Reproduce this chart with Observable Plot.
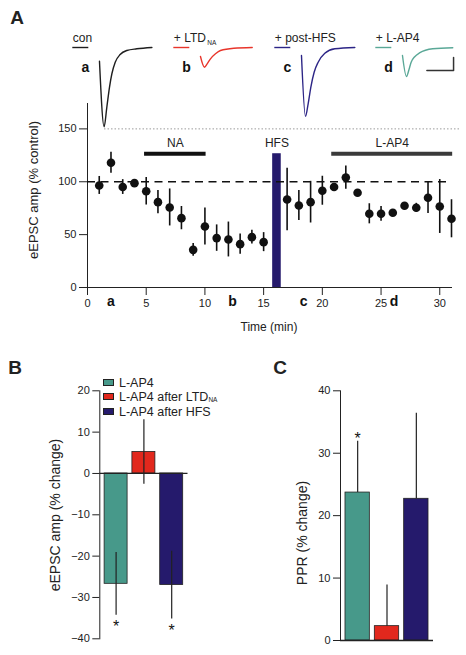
<!DOCTYPE html>
<html><head><meta charset="utf-8">
<script src="https://cdn.jsdelivr.net/npm/d3@7"></script>
<script src="https://cdn.jsdelivr.net/npm/@observablehq/plot@0.6"></script>
<style>
body{margin:0;background:#fff;}
#fig{position:relative;width:466px;height:655px;font-family:"Liberation Sans",Arial,sans-serif;color:#222;overflow:hidden;background:#fff}
#fig svg{position:absolute;}
.plabel{position:absolute;font-weight:bold;font-size:19px;transform:translate(-50%,-50%);line-height:1}
.title{position:absolute;white-space:nowrap;transform:translate(-50%,-50%);line-height:1}
.rot{transform:translate(-50%,-50%) rotate(-90deg)}
.leg{position:absolute;display:flex;align-items:center;height:14px;white-space:nowrap;font-size:12.5px}
.sw{display:inline-block;width:11px;height:7px;border:1px solid #222;box-sizing:border-box;margin-right:5px}
sub{font-size:6.5px;vertical-align:-1px}
</style></head>
<body><div id="fig"></div>
<script>
// ---------- Panel A: time course ----------
const times = [1,2,3,4,5,6,7,8,9,10,11,12,13,14,15,17,18,19,20,21,22,23,24,25,26,27,28,29,30,31];
const means = [96.5,118,95,98.7,91,80.7,75.7,65.6,35.6,57.7,46.7,45.4,41,47.6,42.9,83.2,77.6,80.7,91.5,95,104,89.6,69.7,69.7,70.7,77.3,75.4,84.9,76.6,65];
const sems  = [8.5,10,7,2.5,13,11,17.5,11,6,17.5,12.5,16.5,9.5,6.5,9,29.5,14.2,19.7,13.7,3,11,2,9.5,7,2,2,4.2,15,25.5,18];
const xTicksA = [0,5,10,15,20,25,30];
const yTicksA = [0,50,100,150];
const periodLabels = ["NA","HFS","L-AP4"];
const periodStart = [4.86,15.77,20.8];
const periodEnd = [10.1,16.5,31.1];
const periodLevel = 126.5;
const sampleIds = ["a","b","c","d"];
const sampleTimes = [2.0,12.35,18.4,26.1];

// ---------- Panel A: example traces (ms, pA) ----------
const traceLabels = ["con","+ LTD","+ post-HFS","+ L-AP4"];
const traceColors = ["#1e1e1e","#e8352b","#2c2586","#5aa897"];
const traceATime = [0,3.5,5.5,7.5,9.3,11.8,15.5,20.5,28,39.3];
const traceACurrent = [-52.7,-305,-230,-153,-101,-56.5,-27,-11.5,-5,0];
const traceBTime = [0,3,5,7.5,11.25,15,25,38.8];
const traceBCurrent = [-34.6,-75.8,-63,-43.5,-24.2,-11.5,-2.7,0];
const traceCTime = [0,3,5,7,9.5,12.5,17.5,25,40];
const traceCCurrent = [-30.8,-265,-216.5,-153,-95,-56.5,-22,-5,0];
const traceDTime = [0,3,4.9,6.5,9,12.75,22.7,37.7];
const traceDCurrent = [-30.8,-111.5,-84.6,-56.5,-36.5,-21,-5,-1.2];
const scaleBarMs = 20, scaleBarPA = 50;

// ---------- Panels B & C ----------
const groups = ["L-AP4","L-AP4 after LTD_NA","L-AP4 after HFS"];
const barColors = ["#47998a","#e2281d","#251a6c"];
const ampChange = [-26.7,5.2,-27.0];
const ampErr = [7.6,7.8,8.2];
const ampSig = [true,false,true];
const pprChange = [23.7,2.3,22.7];
const pprErr = [8.2,6.6,13.7];
const pprSig = [true,false,false];
const yTicksB = [-40,-30,-20,-10,0,10,20];
const yTicksC = [0,10,20,30,40];

const FONT = '"Liberation Sans", Arial, sans-serif';
const fig = document.getElementById("fig");
function place(el, left, top){ el.style.left = left+"px"; el.style.top = top+"px"; fig.appendChild(el); }
function html(cls, txt, x, y, size, extra){
  const d = document.createElement("div"); d.className = cls; d.innerHTML = txt;
  if (size) d.style.fontSize = size+"px";
  if (extra) Object.assign(d.style, extra);
  place(d, x, y); return d;
}

// Main time-course plot
const mainData = times.map((t,i)=>({t, m: means[i], e: sems[i]}));
const periods = periodLabels.map((p,i)=>({p, s: periodStart[i], e: periodEnd[i], mid: (periodStart[i]+periodEnd[i])/2}));
const plotA = Plot.plot({
  width: 466, height: 245, marginLeft: 87, marginRight: 15, marginTop: 8, marginBottom: 53,
  style: {background: "transparent", fontFamily: FONT, fontSize: "11px", color: "#222"},
  x: {domain: [0,31], ticks: xTicksA, tickSize: 8, tickPadding: 4, label: null, line: true},
  y: {domain: [0,174], ticks: yTicksA, tickSize: 8, tickPadding: 3, label: null, line: true},
  marks: [
    Plot.ruleY([150], {x1: 1.45, x2: 31.8, stroke: "#9a9a9a", strokeWidth: 1, strokeDasharray: "1.5,2"}),
    Plot.rect(periods.filter(d=>d.p==="HFS"), {x1: "s", x2: "e", y1: 0, y2: periodLevel, fill: barColors[2]}),
    Plot.ruleY([100], {x1: 0, x2: 31, stroke: "#111", strokeWidth: 1.4, strokeDasharray: "8,5.5"}),
    Plot.ruleY(periods.filter(d=>d.p!=="HFS"), {x1: "s", x2: "e", y: periodLevel, stroke: d=>d.p==="NA"?"#111":"#3a3a3a", strokeWidth: 4}),
    Plot.text(periods, {x: "mid", y: periodLevel, text: "p", dy: -11, fontSize: 12, fill: "#222"}),
    Plot.ruleX(mainData, {x: "t", y1: d=>d.m-d.e, y2: d=>d.m+d.e, stroke: "#111", strokeWidth: 1.6}),
    Plot.dot(mainData, {x: "t", y: "m", r: 4.3, fill: "#111", stroke: "none"}),
    Plot.text(sampleIds, {x: (d,i)=>sampleTimes[i], y: 0, text: d=>d, dy: 14, fontSize: 14, fontWeight: "bold", fill: "#111"})
  ]
});
place(plotA, 0, 95);

// Trace plot
const traceT = [traceATime, traceBTime, traceCTime, traceDTime];
const traceI = [traceACurrent, traceBCurrent, traceCCurrent, traceDCurrent];
const traceRows = [];
sampleIds.forEach((id,k)=>traceT[k].forEach((t,j)=>traceRows.push({id, t, i: traceI[k][j]})));
const labelRows = sampleIds.map((id,k)=>({id, label: traceLabels[k]}));
const barStart = 18.3;
const scaleRows = [
  {id: "d", t: barStart, i: -88.5},
  {id: "d", t: barStart+scaleBarMs, i: -88.5},
  {id: "d", t: barStart+scaleBarMs, i: -88.5+scaleBarPA}
];
const plotT = Plot.plot({
  width: 466, height: 140, marginLeft: 72.3, marginRight: 0, marginTop: 0, marginBottom: 0,
  style: {background: "transparent", fontFamily: FONT, fontSize: "12px", color: "#222", overflow: "visible"},
  fx: {domain: sampleIds, paddingInner: 0.102, paddingOuter: 0, align: 0, round: false, axis: null, label: null},
  x: {domain: [-20,48], axis: null},
  y: {domain: [-357.7,180.8], axis: null},
  color: {domain: sampleIds, range: traceColors},
  marks: [
    Plot.line(traceRows, {fx: "id", x: "t", y: "i", stroke: "id", strokeWidth: 1.4, curve: "monotone-x"}),
    Plot.ruleY(labelRows, {fx: "id", y: 0, x1: -20, x2: -8, stroke: "id", strokeWidth: 1.4}),
    Plot.text(labelRows, {fx: "id", x: -20, y: 34.6, text: "label", textAnchor: "start", fontSize: 12, fill: "#222"}),
    Plot.text(labelRows.filter(d=>d.id==="b"), {fx: "id", x: -20, y: 34.6, text: ()=>"NA", dx: 33.5, dy: 4.5, fontSize: 6.5, textAnchor: "start", fill: "#222"}),
    Plot.text(labelRows, {fx: "id", x: -10.5, y: -77, text: "id", fontSize: 14, fontWeight: "bold", fill: "#111"}),
    Plot.line(scaleRows, {fx: "id", x: "t", y: "i", stroke: "#333", strokeWidth: 1.5})
  ]
});
place(plotT, 0, 0);

// Panel B
const ampRows = groups.map((g,i)=>({g, v: ampChange[i], e: ampErr[i], s: ampSig[i]}));
const plotB = Plot.plot({
  width: 240, height: 275, marginLeft: 99.3, marginRight: 52.5, marginTop: 10.3, marginBottom: 16.7,
  style: {background: "transparent", fontFamily: FONT, fontSize: "11px", color: "#222"},
  x: {type: "band", domain: groups, padding: 0.173, round: false, axis: null},
  y: {domain: [-40,20], ticks: yTicksB, tickSize: 7, tickPadding: 3, label: null, line: true},
  color: {domain: groups, range: barColors},
  marks: [
    Plot.barY(ampRows, {x: "g", y: "v", fill: "g", stroke: "#222", strokeWidth: 0.8}),
    Plot.ruleX(ampRows, {x: "g", y1: d=>d.v-d.e, y2: d=>d.v+d.e, stroke: "#222", strokeWidth: 1.2}),
    Plot.ruleY([0], {stroke: "#222", strokeWidth: 1.3}),
    Plot.text(ampRows.filter(d=>d.s), {x: "g", y: d=>d.v-d.e, text: ()=>"*", dy: 12, fontSize: 16, fill: "#111"})
  ]
});
place(plotB, 0, 380);

// Panel C
const pprRows = groups.map((g,i)=>({g, v: pprChange[i], e: pprErr[i], s: pprSig[i]}));
const plotC = Plot.plot({
  width: 236, height: 275, marginLeft: 110, marginRight: 33, marginTop: 10.3, marginBottom: 15,
  style: {background: "transparent", fontFamily: FONT, fontSize: "11px", color: "#222"},
  x: {type: "band", domain: groups, padding: 0.17, round: false, axis: null},
  y: {domain: [0,40], ticks: yTicksC, tickSize: 7, tickPadding: 3, label: null, line: true},
  color: {domain: groups, range: barColors},
  marks: [
    Plot.barY(pprRows, {x: "g", y: "v", fill: "g", stroke: "#222", strokeWidth: 0.8}),
    Plot.ruleX(pprRows, {x: "g", y1: "v", y2: d=>d.v+d.e, stroke: "#222", strokeWidth: 1.2}),
    Plot.ruleY([0], {stroke: "#222", strokeWidth: 1.3}),
    Plot.text(pprRows.filter(d=>d.s), {x: "g", y: d=>d.v+d.e, text: ()=>"*", dy: -2, fontSize: 16, fill: "#111"})
  ]
});
place(plotC, 230, 380);

// Legend for B
groups.forEach((g,i)=>{
  const row = document.createElement("div"); row.className = "leg";
  const sw = document.createElement("span"); sw.className = "sw"; sw.style.background = barColors[i];
  const tx = document.createElement("span"); tx.innerHTML = g.replace("_NA","<sub>NA</sub>");
  row.appendChild(sw); row.appendChild(tx);
  place(row, 103, [375.7, 389.7, 404.7][i]);
});

// Panel letters and axis titles
html("plabel","A",17,17);
html("plabel","B",15,367);
html("plabel","C",280,367);
html("title","Time (min)",269,327,12);
html("title rot","eEPSC amp (% control)",33,190,13);
html("title rot","eEPSC amp (% change)",55,515,14);
html("title rot","PPR (% change)",302,533,14);
</script></body></html>
